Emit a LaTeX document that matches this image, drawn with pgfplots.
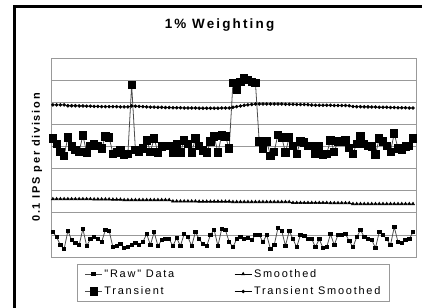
\documentclass[border=0pt]{standalone}
\usepackage{pgfplots}
\usepackage{pgfplotstable}
\pgfplotsset{compat=1.18}
\usepackage{fontspec}
\setmainfont{Liberation Sans}
\newfontfamily\spaced[LetterSpace=16]{Liberation Sans}
\pgfplotstableread{
i raw tr sm ts
0 1.13 5.36 2.62 6.88
1 0.90 5.13 2.62 6.88
2 0.54 4.77 2.62 6.88
3 0.36 4.59 2.62 6.88
4 1.18 5.41 2.62 6.84
5 0.77 5.00 2.62 6.84
6 0.63 4.86 2.62 6.84
7 0.54 4.77 2.62 6.83
8 1.27 5.50 2.62 6.83
9 0.50 4.73 2.62 6.82
10 0.81 5.04 2.62 6.82
11 0.90 5.13 2.61 6.81
12 0.81 5.04 2.61 6.81
13 0.68 4.91 2.61 6.80
14 1.22 5.45 2.61 6.80
15 1.18 5.41 2.61 6.80
16 0.45 4.68 2.60 6.80
17 0.50 4.73 2.60 6.80
18 0.59 4.82 2.60 6.79
19 0.41 4.64 2.58 6.79
20 0.45 4.68 2.58 6.79
21 0.54 7.78 2.58 6.83
22 0.63 4.86 2.58 6.82
23 0.54 4.77 2.58 6.81
24 0.68 4.91 2.58 6.80
25 1.04 5.27 2.58 6.79
26 0.54 4.77 2.58 6.78
27 1.13 5.36 2.58 6.78
28 0.50 4.73 2.58 6.77
29 0.77 5.00 2.58 6.77
30 0.81 5.04 2.58 6.76
31 0.81 5.04 2.58 6.76
32 0.50 4.73 2.52 6.75
33 0.86 5.09 2.52 6.75
34 0.50 4.73 2.52 6.75
35 1.04 5.27 2.52 6.74
36 0.90 5.13 2.52 6.74
37 0.50 4.73 2.52 6.74
38 1.13 5.36 2.52 6.74
39 0.81 5.04 2.51 6.73
40 0.59 4.82 2.51 6.73
41 0.50 4.73 2.51 6.73
42 1.00 5.23 2.51 6.73
43 1.22 5.45 2.51 6.73
44 0.50 4.73 2.51 6.73
45 1.27 5.50 2.51 6.74
46 1.22 5.45 2.51 6.74
47 0.68 4.91 2.51 6.74
48 0.45 7.87 2.49 6.77
49 0.81 7.56 2.49 6.80
50 0.90 7.92 2.49 6.83
51 0.81 8.10 2.49 6.86
52 0.86 8.01 2.49 6.88
53 0.77 7.92 2.49 6.90
54 1.00 7.87 2.49 6.92
55 1.00 5.23 2.49 6.92
56 0.68 4.91 2.49 6.92
57 1.00 5.23 2.49 6.92
58 0.36 4.59 2.49 6.92
59 0.54 4.77 2.49 6.92
60 1.31 5.54 2.49 6.92
61 1.18 5.41 2.49 6.92
62 0.50 4.73 2.49 6.91
63 1.18 5.41 2.49 6.91
64 0.81 5.04 2.45 6.91
65 0.45 4.68 2.45 6.90
66 1.00 5.23 2.45 6.90
67 0.95 5.18 2.45 6.90
68 0.81 5.04 2.45 6.89
69 0.81 5.04 2.45 6.87
70 0.45 4.68 2.45 6.86
71 0.81 5.04 2.45 6.86
72 0.41 4.64 2.45 6.86
73 0.45 4.68 2.45 6.86
74 1.04 5.27 2.44 6.86
75 0.54 4.77 2.44 6.85
76 1.00 5.23 2.44 6.85
77 1.00 5.23 2.44 6.85
78 1.04 5.27 2.44 6.85
79 0.72 4.95 2.44 6.84
80 0.45 4.68 2.40 6.81
81 0.90 5.13 2.40 6.80
82 1.22 5.45 2.40 6.80
83 0.90 5.13 2.40 6.79
84 0.81 5.04 2.40 6.79
85 0.77 5.00 2.40 6.78
86 0.41 4.64 2.40 6.78
87 1.13 5.36 2.40 6.77
88 1.00 5.23 2.40 6.77
89 0.81 5.04 2.40 6.77
90 0.54 4.77 2.40 6.76
91 1.36 5.59 2.40 6.76
92 0.68 4.91 2.40 6.75
93 0.63 4.86 2.40 6.75
94 0.77 5.00 2.40 6.75
95 0.81 5.04 2.40 6.74
96 1.13 5.36 2.40 6.74
}\data
\begin{document}
\begin{tikzpicture}
\path[use as bounding box] (0,0) rectangle (422bp,308bp);
\draw[line width=3bp,black] (14.5bp,0) -- (14.5bp,301.5bp) -- (422bp,301.5bp);
\begin{axis}[
  at={(51bp,51bp)}, anchor=south west,
  width=365bp, height=199bp, scale only axis,
  xmin=-0.5, xmax=96.8, ymin=0, ymax=9,
  xtick=\empty, ytick={0,1,...,9}, yticklabels={},
  major tick length=0pt,
  ymajorgrids, grid style={draw=gray!80, line width=0.7pt},
  axis line style={draw=gray!80, line width=0.7pt},
  title={\spaced\bfseries\fontsize{13.5}{15}\selectfont 1\% Weighting},
  title style={at={([xshift=-14bp,yshift=24bp]axis description cs:0.5,1)}, anchor=base},
  ylabel={\spaced\bfseries\fontsize{11}{13}\selectfont 0.1 IPS per division},
  ylabel style={at={([xshift=-14bp]axis description cs:0,0.5)}, anchor=center, rotate=0},
  legend columns=2,
  legend cell align=left,
  legend style={at={([yshift=-7bp]axis description cs:0.5,0)}, anchor=north,
    draw=gray!80, line width=0.7pt, font=\spaced\fontsize{11}{13}\selectfont,
    /tikz/every even column/.append style={column sep=58bp},
    row sep=4bp, inner xsep=7bp, inner ysep=3bp},
]
\addplot[gray!60!black, line width=0.8pt, mark=square*, mark size=1.7bp, mark options={black, solid}] table[x=i,y=raw]{\data};
\addlegendentry{"Raw" Data}
\addplot[black, line width=0.7pt, mark=triangle*, mark size=1.6bp, mark options={black, solid}] table[x=i,y=sm]{\data};
\addlegendentry{Smoothed}
\addplot[gray!60!black, line width=0.8pt, mark=square*, mark size=3.6bp, mark options={black, solid}] table[x=i,y=tr]{\data};
\addlegendentry{Transient}
\addplot[black, line width=0.7pt, mark=*, mark size=1.4bp, mark options={black, solid}] table[x=i,y=ts]{\data};
\addlegendentry{Transient Smoothed}
\end{axis}
\end{tikzpicture}
\end{document}
